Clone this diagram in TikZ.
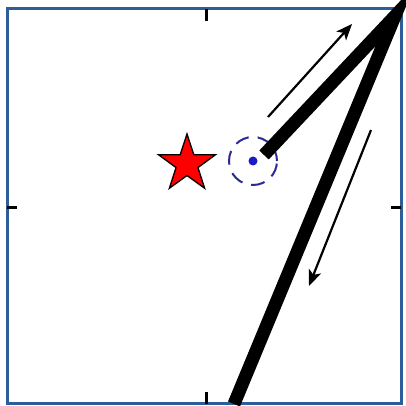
\documentclass[tikz,border=0pt]{standalone}
\usetikzlibrary{shapes.geometric,arrows.meta}
\definecolor{framec}{HTML}{2E5E9A}
\definecolor{dotc}{HTML}{1A1AC8}
\definecolor{ringc}{HTML}{2A2A90}
\tikzset{
  framebox/.style={draw=framec,line width=3pt},
  tickmark/.style={draw=black,line width=3pt},
  stroke/.style={draw=black,line width=13pt},
  motion/.style={draw=black,line width=2.2pt,-{Stealth[length=16pt,width=13pt,inset=4pt]}},
}
\begin{document}
\begin{tikzpicture}[x=1pt,y=1pt]
\useasboundingbox (0,0) rectangle (405,406);
\fill[white] (0,0) rectangle (405,406);
% frame
\draw[framebox] (7,2) rectangle (401,397);
% ticks
\coordinate (t1) at (206,397); \coordinate (t1e) at (206,385);
\coordinate (t2) at (206,2); \coordinate (t2e) at (206,14);
\coordinate (t3) at (7,198); \coordinate (t3e) at (17,198);
\coordinate (t4) at (401,198); \coordinate (t4e) at (391,198);
\draw[tickmark] (t1) -- (t1e);
\draw[tickmark] (t2) -- (t2e);
\draw[tickmark] (t3) -- (t3e);
\draw[tickmark] (t4) -- (t4e);
% star
\node[star,star points=5,star point ratio=2.6,minimum size=60pt,inner sep=0pt,
      fill=red,draw=black,line width=1.3pt] (star) at (187,242) {};
% dashed ring and dot
\node[circle,draw=ringc,dash pattern=on 14pt off 9pt,dash phase=4pt,line width=2pt,
      minimum size=48pt,inner sep=0pt] (ring) at (253,245) {};
\node[circle,fill=dotc,minimum size=9pt,inner sep=0pt] (dot) at (253,245) {};
% thick strokes
\coordinate (s0) at (264,251);
\coordinate (apex) at (395,390);
\coordinate (s2) at (234,2);
\draw[stroke,line cap=butt,line join=miter,miter limit=20] (s0) -- (apex) -- (s2);
% thin arrows
\coordinate (a1s) at (268,289); \coordinate (a1e) at (352,382);
\coordinate (a2s) at (371,276); \coordinate (a2e) at (309,120);
\draw[motion] (a1s) -- (a1e);
\draw[motion] (a2s) -- (a2e);
\end{tikzpicture}
\end{document}
